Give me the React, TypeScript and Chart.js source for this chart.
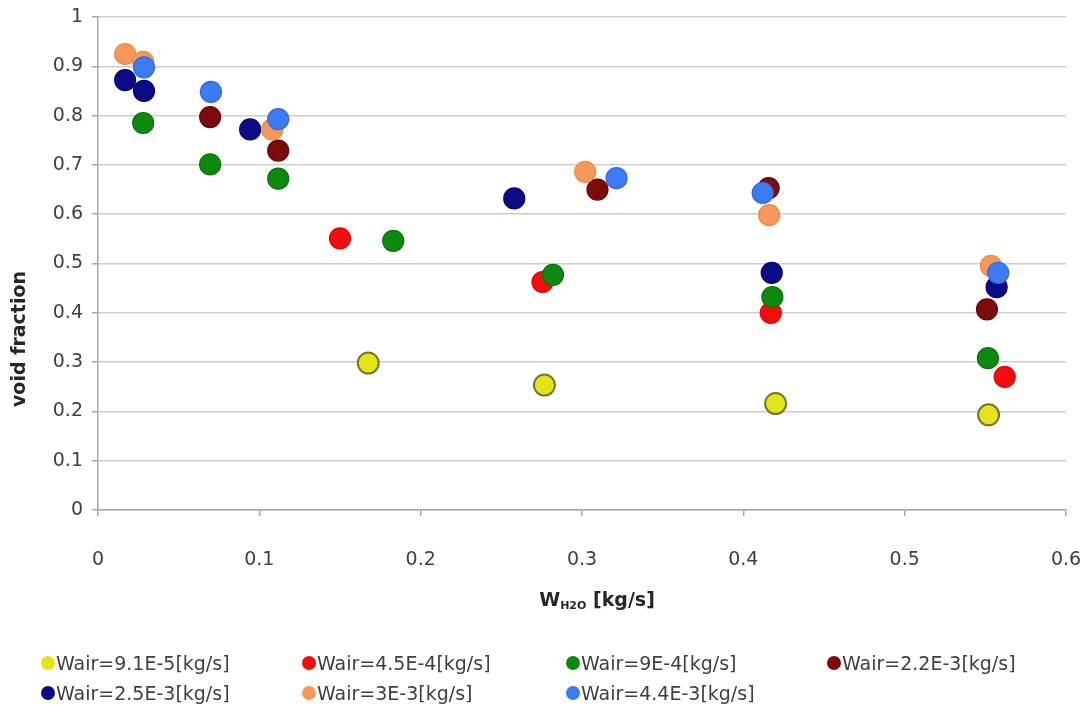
import React, { useEffect, useRef } from "react";
import { Chart, registerables } from "chart.js";

Chart.register(...registerables);

// ---- data (W_H2O [kg/s], void fraction) ----
const seriesLabels = [
  "Wair=9.1E-5[kg/s]",
  "Wair=4.5E-4[kg/s]",
  "Wair=9E-4[kg/s]",
  "Wair=2.2E-3[kg/s]",
  "Wair=2.5E-3[kg/s]",
  "Wair=3E-3[kg/s]",
  "Wair=4.4E-3[kg/s]",
];

const s1X = [0.1675, 0.2767, 0.42, 0.552];
const s1Y = [0.298, 0.2535, 0.216, 0.193];

const s2X = [0.15, 0.2755, 0.417, 0.562];
const s2Y = [0.551, 0.4625, 0.4, 0.27];

const s3X = [0.028, 0.0695, 0.1117, 0.183, 0.282, 0.418, 0.5516];
const s3Y = [0.785, 0.701, 0.672, 0.546, 0.477, 0.432, 0.308];

const s4X = [0.0695, 0.1117, 0.3096, 0.4157, 0.551];
const s4Y = [0.797, 0.729, 0.65, 0.653, 0.407];

const s5X = [0.0168, 0.0285, 0.0943, 0.258, 0.4176, 0.557];
const s5Y = [0.872, 0.85, 0.772, 0.632, 0.481, 0.452];

const s6X = [0.0168, 0.028, 0.108, 0.302, 0.416, 0.5535];
const s6Y = [0.925, 0.909, 0.772, 0.686, 0.598, 0.495];

const s7X = [0.0285, 0.07, 0.1117, 0.3214, 0.412, 0.558];
const s7Y = [0.898, 0.848, 0.793, 0.673, 0.643, 0.481];

const seriesX = [s1X, s2X, s3X, s4X, s5X, s6X, s7X];
const seriesY = [s1Y, s2Y, s3Y, s4Y, s5Y, s6Y, s7Y];

const fillColors = ["#e4e41a", "#f50d0d", "#0d8a0d", "#7d0b0b", "#0b0b85", "#f5995a", "#3c7bf2"];
const borderColors = ["#75752c", "#dd0606", "#077207", "#680606", "#06066e", "#e88a4c", "#2f6be0"];

const xTitleMain = "W";
const xTitleSub = "H2O";
const xTitleUnit = " [kg/s]";
const yTitle = "void fraction";

const FONT = "'DejaVu Sans', 'Liberation Sans', Arial, sans-serif";

const titlesPlugin = {
  id: "customTitles",
  afterDraw(chart: any) {
    const ctx = chart.ctx;
    ctx.save();
    ctx.fillStyle = "#262626";
    // y title
    ctx.translate(20, 339);
    ctx.rotate(-Math.PI / 2);
    ctx.font = `bold 19px ${FONT}`;
    ctx.textAlign = "center";
    ctx.textBaseline = "middle";
    ctx.fillText(yTitle, 0, 0);
    ctx.restore();

    ctx.save();
    ctx.fillStyle = "#262626";
    ctx.textBaseline = "alphabetic";
    ctx.textAlign = "left";
    const big = `bold 19px ${FONT}`;
    const small = `bold 11px ${FONT}`;
    ctx.font = big;
    const w1 = ctx.measureText(xTitleMain).width;
    const w3 = ctx.measureText(xTitleUnit).width;
    ctx.font = small;
    const w2 = ctx.measureText(xTitleSub).width;
    const total = w1 + w2 + w3;
    let x = 597 - total / 2;
    const base = 606;
    ctx.font = big;
    ctx.fillText(xTitleMain, x, base);
    x += w1;
    ctx.font = small;
    ctx.fillText(xTitleSub, x, base + 3);
    x += w2;
    ctx.font = big;
    ctx.fillText(xTitleUnit, x, base);
    ctx.restore();
  },
};

const legendCols = [48, 309, 573, 834];
const legendRows = [663, 693];

export default function App() {
  const canvasRef = useRef<HTMLCanvasElement | null>(null);

  useEffect(() => {
    document.body.style.margin = "0";
    const canvas = canvasRef.current;
    if (!canvas) return;
    const datasets = seriesLabels.map((label, i) => ({
      label,
      data: seriesX[i].map((x, j) => ({ x, y: seriesY[i][j] })),
      backgroundColor: fillColors[i],
      borderColor: borderColors[i],
      borderWidth: i === 0 ? 2 : 1.2,
      pointRadius: 10.5,
      pointHoverRadius: 10.5,
      showLine: false,
      order: seriesLabels.length - i,
    }));
    const chart = new Chart(canvas, {
      type: "scatter",
      data: { datasets },
      options: {
        responsive: false,
        animation: false,
        devicePixelRatio: 1,
        layout: { padding: { top: 17, right: 23, left: 0, bottom: 0 } },
        plugins: { legend: { display: false }, tooltip: { enabled: false } },
        scales: {
          x: {
            type: "linear",
            min: 0,
            max: 0.6,
            ticks: {
              stepSize: 0.1,
              color: "#404040",
              font: { family: FONT, size: 19 },
              padding: 33,
              callback: (v: any) => String(Math.round(Number(v) * 10) / 10),
            },
            grid: {
              drawOnChartArea: false,
              drawTicks: true,
              tickLength: 6,
              tickColor: "#a6a6a6",
              lineWidth: 1.5,
            },
            border: { color: "#a6a6a6", width: 1.5 },
            afterFit: (scale: any) => {
              scale.height = 196;
              scale.paddingLeft = 0;
              scale.paddingRight = 0;
            },
          },
          y: {
            type: "linear",
            min: 0,
            max: 1,
            ticks: {
              stepSize: 0.1,
              color: "#404040",
              font: { family: FONT, size: 19 },
              padding: 9,
              callback: (v: any) => String(Math.round(Number(v) * 10) / 10),
            },
            grid: {
              color: "#cdcdcd",
              lineWidth: 1.5,
              drawTicks: true,
              tickLength: 6,
              tickColor: "#a6a6a6",
            },
            border: { color: "#a6a6a6", width: 1.5 },
            afterFit: (scale: any) => {
              scale.width = 98;
              scale.paddingTop = 0;
              scale.paddingBottom = 0;
            },
          },
        },
      },
      plugins: [titlesPlugin],
    });
    return () => chart.destroy();
  }, []);

  return (
    <div style={{ position: "relative", width: 1089, height: 706, background: "#fff", overflow: "hidden" }}>
      <canvas ref={canvasRef} width={1089} height={706} style={{ position: "absolute", left: 0, top: 0 }} />
      {seriesLabels.map((label, i) => {
        const col = i % 4;
        const row = Math.floor(i / 4);
        const cx = legendCols[col];
        const cy = legendRows[row];
        return (
          <div
            key={label}
            style={{
              position: "absolute",
              left: cx - 7,
              top: cy - 12,
              height: 24,
              display: "flex",
              alignItems: "center",
              fontFamily: FONT,
              fontSize: 19,
              color: "#404040",
              whiteSpace: "nowrap",
            }}
          >
            <span
              style={{
                display: "inline-block",
                width: 14,
                height: 14,
                borderRadius: "50%",
                background: fillColors[i],
                marginRight: 1,
              }}
            />
            <span>{label}</span>
          </div>
        );
      })}
    </div>
  );
}
